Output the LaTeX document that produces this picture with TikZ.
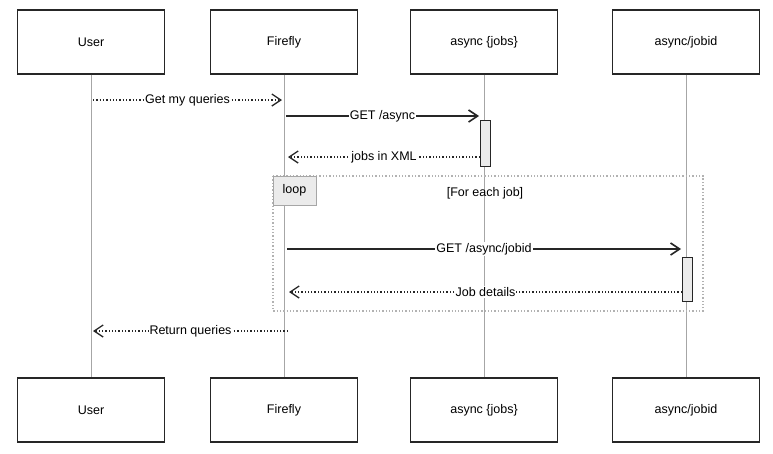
\documentclass[tikz,border=0pt]{standalone}
\usepackage{fontspec}
\setmainfont{Liberation Sans}
\usetikzlibrary{arrows.meta}
\begin{document}
\begin{tikzpicture}[x=1pt,y=-1pt,
  actor/.style={draw=black!85,line width=1.2pt,minimum width=147pt,minimum height=64pt,font=\fontsize{12.5}{14}\selectfont},
  life/.style={draw=black!35,line width=0.8pt},
  act/.style={draw=black!85,fill=black!8,line width=1pt},
  msg/.style={draw=black!85,line width=1.6pt,-{Straight Barb[length=9pt,width=12pt]}},
  ret/.style={draw=black!85,line width=1.3pt,dotted,-{Straight Barb[length=9pt,width=12pt]}},
  lbl/.style={fill=white,inner sep=1pt,font=\fontsize{12.5}{14}\selectfont}]
\useasboundingbox (0,0) rectangle (773,453);
\foreach \n/\x/\t in {u/91/User,f/284/Firefly,j/484/async \{jobs\},d/686/{async/jobid}}{
  \node[actor] (\n t) at (\x,42) {\t};
  \node[actor] (\n b) at (\x,410) {\t};
  \draw[life] (\n t) -- (\n b);
}
\node[act,minimum width=10pt,minimum height=46pt,inner sep=0pt] (a1) at (485,143) {};
\node[act,minimum width=10pt,minimum height=44pt,inner sep=0pt] (a2) at (687,279) {};
\draw[draw=black!30,line width=1.3pt,dotted] (273,176) rectangle (703,311);
\node[draw=black!35,fill=black!8,line width=1pt,minimum width=43pt,minimum height=29pt,inner sep=0pt,font=\fontsize{12.5}{14}\selectfont] (lp) at (294.5,190.5) {loop};
\node[font=\fontsize{12.5}{14}\selectfont] (fe) at (485,193) {[For each job]};
\coordinate (m1s) at (93,100); \coordinate (m1e) at (282,100);
\draw[ret] (m1s) -- node[lbl]{Get my queries} (m1e);
\coordinate (m2s) at (286,116); \coordinate (m2e) at (479,116);
\draw[msg] (m2s) -- node[lbl]{GET /async} (m2e);
\coordinate (m3s) at (480,157); \coordinate (m3e) at (288,157);
\draw[ret] (m3s) -- node[lbl]{jobs in XML} (m3e);
\coordinate (m4s) at (287,249); \coordinate (m4e) at (681,249);
\draw[msg] (m4s) -- node[lbl]{GET /async/jobid} (m4e);
\coordinate (m5s) at (682,292); \coordinate (m5e) at (289,292);
\draw[ret] (m5s) -- node[lbl]{Job details} (m5e);
\coordinate (m6s) at (288,331); \coordinate (m6e) at (93,331);
\draw[ret] (m6s) -- node[lbl]{Return queries} (m6e);
\end{tikzpicture}
\end{document}
